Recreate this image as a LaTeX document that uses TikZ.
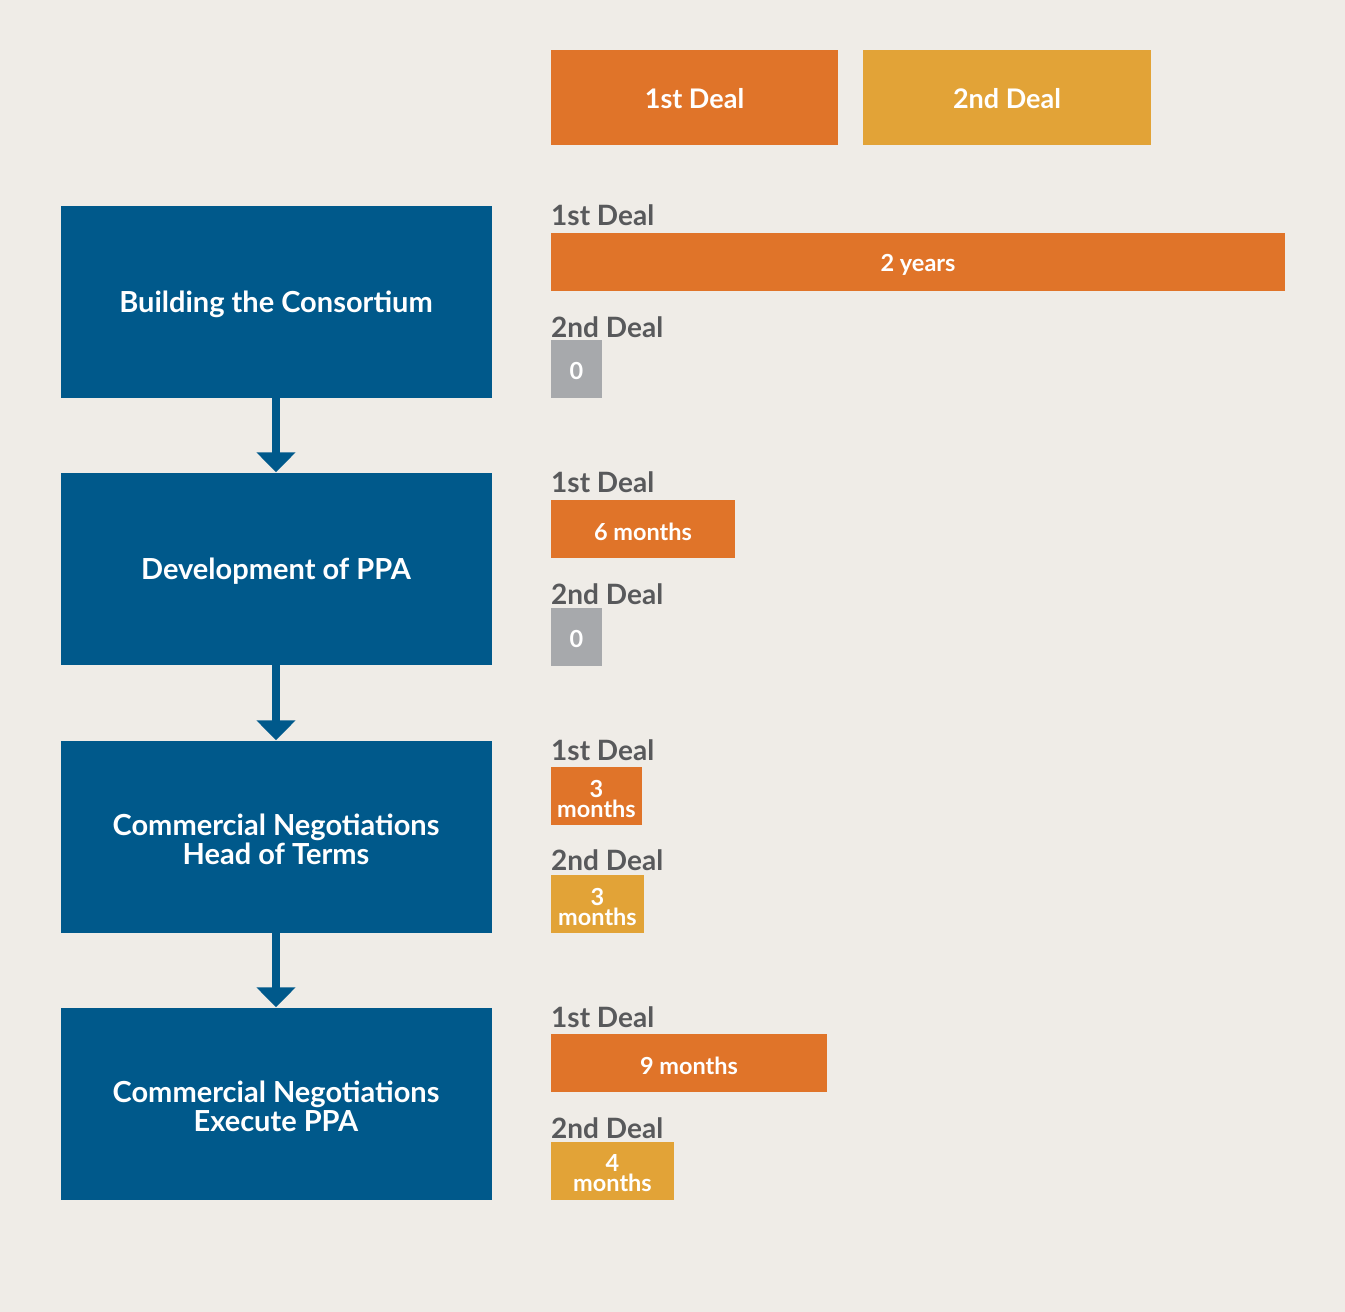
\documentclass[tikz,border=0pt]{standalone}
\usepackage{fontspec}
\setmainfont{Lato}
\usetikzlibrary{arrows.meta}
\definecolor{bg}{HTML}{EFECE7}
\definecolor{orng}{HTML}{E07429}
\definecolor{yell}{HTML}{E2A337}
\definecolor{navy}{HTML}{00598B}
\definecolor{greybar}{HTML}{A7A9AC}
\definecolor{greytxt}{HTML}{58595B}
\tikzset{
  stage/.style={fill=navy, draw=none, text=white, align=center, minimum width=431pt, minimum height=192pt, font=\fontsize{29}{29}\selectfont\bfseries},
  stagetext/.style={text=white, align=center, inner sep=0pt, font=\fontsize{29}{29}\selectfont\bfseries},
  legend/.style={draw=none, text=white, font=\fontsize{27}{29}\selectfont\bfseries},
  bar/.style={draw=none, inner sep=0pt, minimum height=58pt},
  bartext/.style={text=white, align=center, inner sep=0pt, font=\fontsize{23.5}{20}\selectfont\bfseries},
  deal/.style={anchor=base west, inner sep=0pt, text=greytxt, font=\fontsize{28}{29}\selectfont\bfseries},
  flow/.style={draw=navy, line width=8pt, -{Triangle[width=38pt,length=20pt]}}
}
\begin{document}
\begin{tikzpicture}[x=1pt,y=-1pt]
\fill[bg] (0,0) rectangle (1345,1312);
\useasboundingbox (0,0) rectangle (1345,1312);

% legend
\fill[orng] (551,50) rectangle (838,145);
\node[legend] (leg1) at (694.5,99) {1st Deal};
\fill[yell] (863,50) rectangle (1151,145);
\node[legend] (leg2) at (1007,99) {2nd Deal};

% stages
\node[stage] (s1) at (276,301.5) {};
\node[stage] (s2) at (276,568.5) {};
\node[stage] (s3) at (276,836.5) {};
\node[stage] (s4) at (276,1103.5) {};
\node[stagetext] (t1) at (276,304) {Building the Consortium};
\node[stagetext] (t2) at (276,571) {Development of PPA};
\node[stagetext] (t3) at (276,839) {Commercial Negotiations\\Head of Terms};
\node[stagetext] (t4) at (276,1106) {Commercial Negotiations\\Execute PPA};

\draw[flow] (s1.south) -- (s2.north);
\draw[flow] (s2.south) -- (s3.north);
\draw[flow] (s3.south) -- (s4.north);

% row 1
\node[deal] (l11) at (551,225) {1st Deal};
\node[bar, fill=orng, minimum width=734pt] (b11) at (918,262) {};
\node[bartext] (v11) at (918,264.5) {2 years};
\node[deal] (l12) at (551,337) {2nd Deal};
\node[bar, fill=greybar, minimum width=51pt] (b12) at (576.5,369) {};
\node[bartext] (v12) at (576.5,371) {0};

% row 2
\node[deal] (l21) at (551,492) {1st Deal};
\node[bar, fill=orng, minimum width=184pt] (b21) at (643,529) {};
\node[bartext] (v21) at (643,531.5) {6 months};
\node[deal] (l22) at (551,604) {2nd Deal};
\node[bar, fill=greybar, minimum width=51pt] (b22) at (576.5,637) {};
\node[bartext] (v22) at (576.5,639) {0};

% row 3
\node[deal] (l31) at (551,760) {1st Deal};
\node[bar, fill=orng, minimum width=91pt] (b31) at (596.5,796) {};
\node[bartext] (v31) at (596.5,798.5) {3\\months};
\node[deal] (l32) at (551,870) {2nd Deal};
\node[bar, fill=yell, minimum width=93pt] (b32) at (597.5,904) {};
\node[bartext] (v32) at (597.5,906.5) {3\\months};

% row 4
\node[deal] (l41) at (551,1027) {1st Deal};
\node[bar, fill=orng, minimum width=276pt] (b41) at (689,1063) {};
\node[bartext] (v41) at (689,1065.5) {9 months};
\node[deal] (l42) at (551,1138) {2nd Deal};
\node[bar, fill=yell, minimum width=123pt] (b42) at (612.5,1171) {};
\node[bartext] (v42) at (612.5,1173.5) {4\\months};
\end{tikzpicture}
\end{document}
